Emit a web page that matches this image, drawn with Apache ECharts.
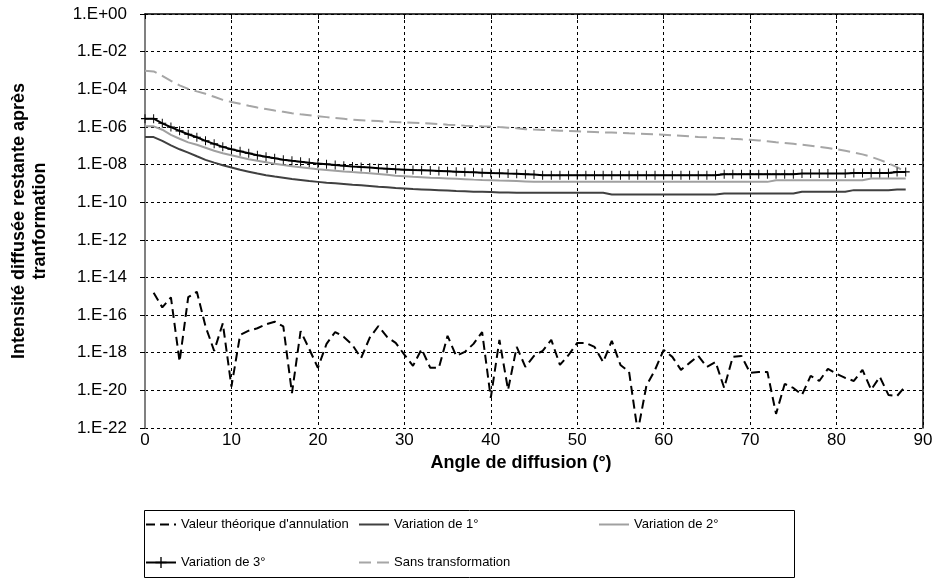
<!DOCTYPE html>
<html><head><meta charset="utf-8">
<script src="https://cdn.jsdelivr.net/npm/echarts@6/dist/echarts.min.js"></script>
<style>html,body{margin:0;padding:0;background:#fff}#c{width:936px;height:578px}</style>
</head><body><div id="c"></div>
<script>
const angles = [0,1,2,3,4,5,6,7,8,9,10,11,12,13,14,15,16,17,18,19,20,21,22,23,24,25,26,27,28,29,30,31,32,33,34,35,36,37,38,39,40,41,42,43,44,45,46,47,48,49,50,51,52,53,54,55,56,57,58,59,60,61,62,63,64,65,66,67,68,69,70,71,72,73,74,75,76,77,78,79,80,81,82,83,84,85,86,87,88];

const theo = [null, 1.55e-15, 2.57e-16, 8.71e-16, 3.39e-19, 8.91e-16, 1.74e-15, 2.51e-17, 1.26e-18, 3.63e-17,
  1.58e-20, 8.71e-18, 1.48e-17, 2.00e-17, 3.24e-17, 4.47e-17, 2.51e-17, 7.08e-21, 1.41e-17, 1.58e-18,
  1.58e-19, 2.95e-18, 1.26e-17, 6.92e-18, 2.57e-18, 5.25e-19, 6.31e-18, 2.63e-17, 6.92e-18, 3.31e-18,
  7.94e-19, 2.00e-19, 1.58e-18, 1.58e-19, 1.58e-19, 7.94e-18, 6.76e-19, 1.10e-18, 2.95e-18, 1.26e-17,
  3.98e-21, 4.79e-18, 1.07e-20, 2.04e-18, 1.78e-19, 6.76e-19, 1.26e-18, 4.79e-18, 2.24e-19, 7.59e-19,
  3.31e-18, 3.31e-18, 2.04e-18, 3.16e-19, 4.27e-18, 2.24e-19, 9.55e-20, 6.31e-23, 1.74e-20, 1.23e-19,
  1.41e-18, 6.03e-19, 1.23e-19, 2.88e-19, 6.76e-19, 1.78e-19, 3.24e-19, 1.35e-20, 6.03e-19, 6.76e-19,
  8.51e-20, 9.55e-20, 9.55e-20, 5.62e-22, 2.19e-20, 1.35e-20, 5.75e-21, 5.89e-20, 3.16e-20, 1.38e-19,
  7.59e-20, 4.57e-20, 3.16e-20, 1.23e-19, 1.07e-20, 5.25e-20, 5.75e-21, 5.01e-21, 1.74e-20];

const var1 = [2.88e-7, 2.88e-7, 1.82e-7, 1.05e-7, 6.46e-8, 4.27e-8, 2.75e-8, 1.78e-8, 1.26e-8, 9.12e-9,
  6.92e-9, 5.25e-9, 4.17e-9, 3.31e-9, 2.69e-9, 2.29e-9, 2.00e-9, 1.70e-9, 1.51e-9, 1.32e-9,
  1.20e-9, 1.07e-9, 1.00e-9, 9.33e-10, 8.51e-10, 7.94e-10, 7.24e-10, 6.61e-10, 6.17e-10, 5.62e-10,
  5.37e-10, 5.01e-10, 4.79e-10, 4.57e-10, 4.37e-10, 4.17e-10, 3.89e-10, 3.80e-10, 3.63e-10, 3.55e-10,
  3.47e-10, 3.31e-10, 3.24e-10, 3.16e-10, 3.16e-10, 3.16e-10, 3.16e-10, 3.16e-10, 3.16e-10, 3.16e-10,
  3.16e-10, 3.16e-10, 3.16e-10, 3.16e-10, 2.57e-10, 2.57e-10, 2.57e-10, 2.57e-10, 2.57e-10, 2.57e-10,
  2.57e-10, 2.57e-10, 2.57e-10, 2.57e-10, 2.57e-10, 2.57e-10, 2.57e-10, 2.88e-10, 2.88e-10, 2.88e-10,
  2.88e-10, 2.88e-10, 2.88e-10, 2.88e-10, 2.88e-10, 2.88e-10, 3.55e-10, 3.55e-10, 3.55e-10, 3.55e-10,
  3.55e-10, 3.55e-10, 4.37e-10, 4.37e-10, 4.37e-10, 4.37e-10, 4.37e-10, 4.68e-10, 4.68e-10];

const var2 = [1.07e-6, 1.07e-6, 7.08e-7, 3.80e-7, 2.34e-7, 1.51e-7, 1.12e-7, 7.76e-8, 5.37e-8, 3.98e-8,
  3.09e-8, 2.45e-8, 1.91e-8, 1.58e-8, 1.32e-8, 1.10e-8, 9.33e-9, 8.13e-9, 7.24e-9, 6.31e-9,
  5.62e-9, 5.13e-9, 4.68e-9, 4.27e-9, 3.98e-9, 3.72e-9, 3.47e-9, 3.16e-9, 2.88e-9, 2.57e-9,
  2.40e-9, 2.24e-9, 2.14e-9, 2.00e-9, 1.91e-9, 1.82e-9, 1.74e-9, 1.66e-9, 1.58e-9, 1.51e-9,
  1.48e-9, 1.41e-9, 1.38e-9, 1.32e-9, 1.26e-9, 1.20e-9, 1.20e-9, 1.20e-9, 1.20e-9, 1.20e-9,
  1.20e-9, 1.20e-9, 1.20e-9, 1.20e-9, 1.20e-9, 1.20e-9, 1.20e-9, 1.20e-9, 1.20e-9, 1.20e-9,
  1.20e-9, 1.20e-9, 1.20e-9, 1.20e-9, 1.20e-9, 1.20e-9, 1.20e-9, 1.20e-9, 1.20e-9, 1.20e-9,
  1.20e-9, 1.20e-9, 1.20e-9, 1.48e-9, 1.48e-9, 1.48e-9, 1.48e-9, 1.48e-9, 1.48e-9, 1.48e-9,
  1.48e-9, 1.48e-9, 1.48e-9, 1.48e-9, 1.82e-9, 1.82e-9, 1.82e-9, 1.82e-9, 1.82e-9];

const var3 = [2.75e-6, 2.75e-6, 1.55e-6, 9.77e-7, 6.17e-7, 4.07e-7, 2.82e-7, 1.82e-7, 1.26e-7, 8.71e-8,
  6.46e-8, 5.13e-8, 3.98e-8, 3.09e-8, 2.57e-8, 2.14e-8, 1.78e-8, 1.58e-8, 1.41e-8, 1.26e-8,
  1.12e-8, 1.05e-8, 9.33e-9, 8.71e-9, 7.94e-9, 7.41e-9, 6.92e-9, 6.31e-9, 6.03e-9, 5.62e-9,
  5.37e-9, 5.13e-9, 5.01e-9, 4.79e-9, 4.57e-9, 4.37e-9, 4.17e-9, 3.98e-9, 3.89e-9, 3.72e-9,
  3.55e-9, 3.47e-9, 3.31e-9, 3.24e-9, 3.09e-9, 2.95e-9, 2.69e-9, 2.69e-9, 2.69e-9, 2.69e-9,
  2.69e-9, 2.69e-9, 2.69e-9, 2.69e-9, 2.69e-9, 2.69e-9, 2.69e-9, 2.69e-9, 2.69e-9, 2.69e-9,
  2.69e-9, 2.69e-9, 2.69e-9, 2.69e-9, 2.69e-9, 2.69e-9, 2.69e-9, 3.09e-9, 3.09e-9, 3.09e-9,
  3.09e-9, 3.09e-9, 3.09e-9, 3.09e-9, 3.09e-9, 3.09e-9, 3.31e-9, 3.31e-9, 3.31e-9, 3.31e-9,
  3.31e-9, 3.31e-9, 3.55e-9, 3.55e-9, 3.55e-9, 3.55e-9, 3.55e-9, 4.07e-9, 4.07e-9];

const sans = [9.55e-4, 8.91e-4, 5.13e-4, 2.82e-4, 1.62e-4, 1.05e-4, 7.76e-5, 5.75e-5, 3.98e-5, 2.75e-5,
  2.09e-5, 1.70e-5, 1.32e-5, 1.07e-5, 8.91e-6, 7.41e-6, 6.31e-6, 5.37e-6, 4.68e-6, 4.17e-6,
  3.72e-6, 3.31e-6, 2.95e-6, 2.69e-6, 2.45e-6, 2.29e-6, 2.14e-6, 2.04e-6, 1.91e-6, 1.82e-6,
  1.74e-6, 1.66e-6, 1.58e-6, 1.51e-6, 1.41e-6, 1.32e-6, 1.26e-6, 1.17e-6, 1.12e-6, 1.07e-6,
  1.05e-6, 9.77e-7, 9.12e-7, 8.51e-7, 7.59e-7, 7.24e-7, 6.92e-7, 6.61e-7, 6.31e-7, 6.17e-7,
  5.89e-7, 5.62e-7, 5.37e-7, 5.13e-7, 5.01e-7, 4.79e-7, 4.57e-7, 4.37e-7, 4.17e-7, 3.98e-7,
  3.80e-7, 3.55e-7, 3.39e-7, 3.16e-7, 2.95e-7, 2.82e-7, 2.63e-7, 2.51e-7, 2.34e-7, 2.19e-7,
  2.09e-7, 1.91e-7, 1.74e-7, 1.55e-7, 1.41e-7, 1.26e-7, 1.12e-7, 1.00e-7, 8.71e-8, 7.59e-8,
  6.46e-8, 5.37e-8, 4.37e-8, 3.47e-8, 2.57e-8, 1.78e-8, 1.17e-8, 7.24e-9, 4.07e-9];

const seriesNames = ["Valeur théorique d'annulation", "Variation de 1°", "Variation de 2°", "Variation de 3°", "Sans transformation"];
const yTickLabels = ['1.E+00','1.E-02','1.E-04','1.E-06','1.E-08','1.E-10','1.E-12','1.E-14','1.E-16','1.E-18','1.E-20','1.E-22'];
const xTitle = 'Angle de diffusion (°)';
const yTitle = 'Intensité diffusée restante après\ntranformation';

const FONT = 'Liberation Sans, Arial, sans-serif';
// the y axis is a decade (log10) scale: each value is placed by its power of ten
const pairs = arr => angles.map((a, i) => [a, arr[i]]).filter(p => p[1] != null).map(p => [p[0], Math.log10(p[1])]);
const plus = 'path://M4.4,0 H5.6 V4.4 H10 V5.6 H5.6 V10 H4.4 V5.6 H0 V4.4 H4.4 Z';

const chart = echarts.init(document.getElementById('c'), null, {renderer: 'canvas'});
const legendBase = {orient: 'horizontal', padding: 0, itemWidth: 30, itemHeight: 14, itemGap: 6,
  textStyle: {fontFamily: FONT, fontSize: 13, color: '#000'}, selectedMode: false};
const noDot = name => ({name: name, itemStyle: {opacity: 0}});
chart.setOption({
  animation: false,
  backgroundColor: '#fff',
  grid: {left: 145, right: 13, top: 14, bottom: 150, containLabel: false},
  xAxis: {
    type: 'value', min: 0, max: 90, interval: 10,
    name: xTitle, nameLocation: 'middle', nameGap: 24,
    nameTextStyle: {fontFamily: FONT, fontSize: 18, fontWeight: 'bold', color: '#000', padding: [0, 26, 0, 0]},
    axisLine: {lineStyle: {color: '#000', width: 1.5}},
    axisTick: {show: true, inside: false, length: 5, lineStyle: {color: '#000'}},
    axisLabel: {fontFamily: FONT, fontSize: 17, color: '#000', margin: 4},
    splitLine: {show: true, lineStyle: {color: '#000', width: 1, type: [3, 3]}}
  },
  yAxis: [{
    type: 'value', min: -22, max: 0, interval: 2,
    name: yTitle, nameLocation: 'middle', nameGap: 94, nameRotate: 90,
    nameTextStyle: {fontFamily: FONT, fontSize: 18, fontWeight: 'bold', color: '#000', lineHeight: 21},
    axisLine: {show: true, lineStyle: {color: '#808080', width: 2}},
    axisTick: {show: true, inside: false, length: 5, lineStyle: {color: '#000'}},
    axisLabel: {fontFamily: FONT, fontSize: 17, color: '#000', margin: 18,
      formatter: v => yTickLabels[Math.round(-v / 2)] || ''},
    splitLine: {show: true, lineStyle: {color: '#000', width: 1, type: [3, 3]}}
  }, {
    type: 'value', position: 'right', min: 0, max: 1,
    axisLine: {show: true, lineStyle: {color: '#000', width: 1.5}},
    axisTick: {show: false}, axisLabel: {show: false}, splitLine: {show: false}
  }],
  legend: [
    Object.assign({}, legendBase, {data: [noDot(seriesNames[0])], left: 145, top: 518}),
    Object.assign({}, legendBase, {data: [noDot(seriesNames[1])], left: 358, top: 518}),
    Object.assign({}, legendBase, {data: [noDot(seriesNames[2])], left: 598, top: 518}),
    Object.assign({}, legendBase, {data: [seriesNames[3]], left: 145, top: 556}),
    Object.assign({}, legendBase, {data: [noDot(seriesNames[4])], left: 358, top: 556})
  ],
  graphic: [{type: 'rect', left: 142, top: 508, silent: true,
    shape: {width: 650, height: 67}, style: {fill: 'none', stroke: '#000', lineWidth: 1}}],
  series: [
    {name: seriesNames[0], type: 'line', data: pairs(theo), symbol: 'none', clip: true,
      lineStyle: {color: '#000', width: 2, type: [9, 5]}, itemStyle: {color: '#000'}},
    {name: seriesNames[1], type: 'line', data: pairs(var1), symbol: 'none',
      lineStyle: {color: '#404040', width: 2}, itemStyle: {color: '#404040'}},
    {name: seriesNames[2], type: 'line', data: pairs(var2), symbol: 'none',
      lineStyle: {color: '#a0a0a0', width: 2}, itemStyle: {color: '#a0a0a0'}},
    {name: seriesNames[3], type: 'line', data: pairs(var3), symbol: plus, symbolSize: [8, 9], showSymbol: true,
      lineStyle: {color: '#000', width: 2}, itemStyle: {color: '#000'}},
    {name: seriesNames[4], type: 'line', data: pairs(sans), symbol: 'none',
      lineStyle: {color: '#a6a6a6', width: 2, type: [12, 6]}, itemStyle: {color: '#a6a6a6'}}
  ]
});
</script></body></html>
